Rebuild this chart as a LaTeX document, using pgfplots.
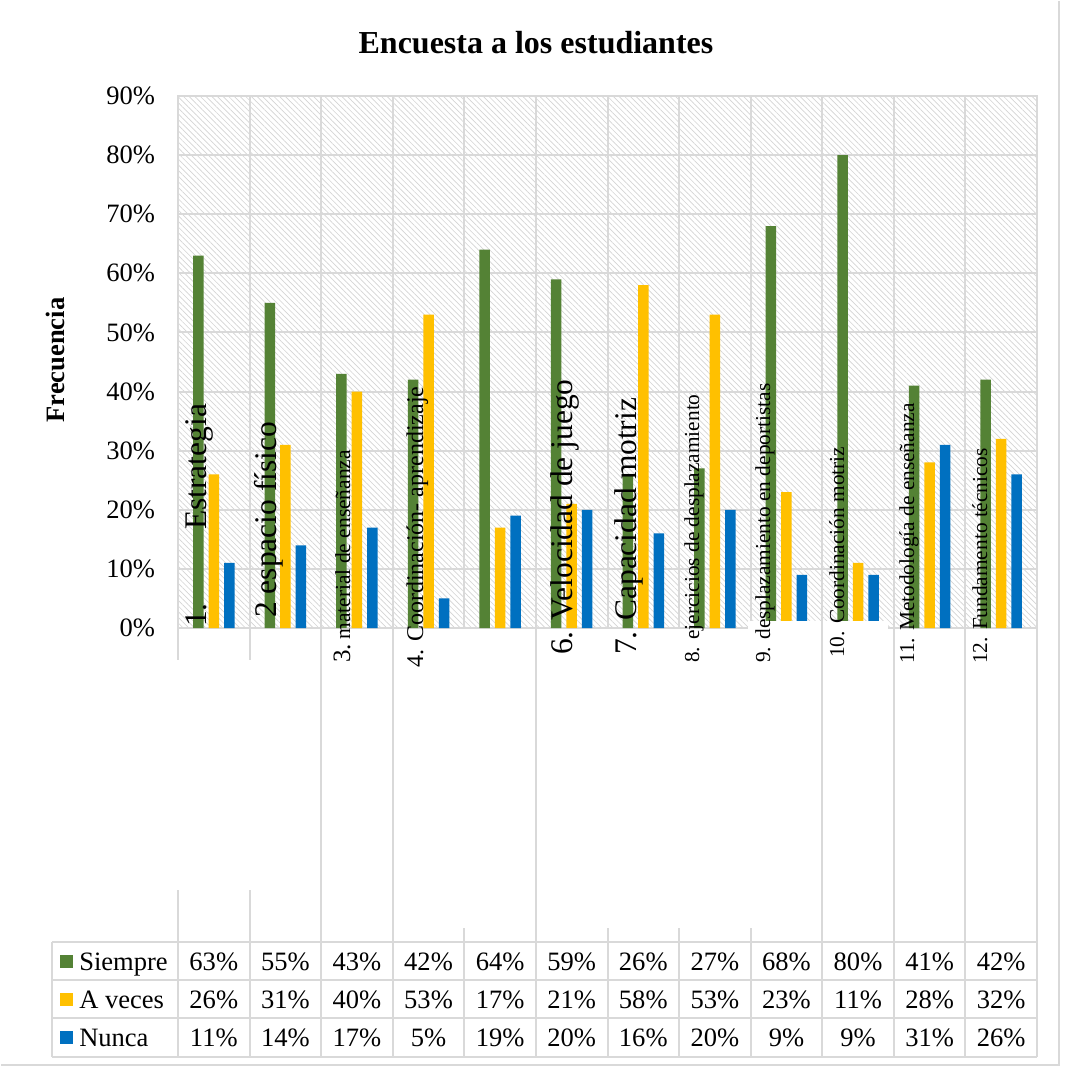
\documentclass[border=0pt]{standalone}
\usepackage{fontspec}
\setmainfont{Liberation Serif}
\usepackage{pgfplots}
\pgfplotsset{compat=1.18}
\usepackage{pgfplotstable}
\usetikzlibrary{patterns.meta}
\definecolor{cS}{HTML}{548235}
\definecolor{cA}{HTML}{FFC000}
\definecolor{cN}{HTML}{0070C0}
\definecolor{gridc}{HTML}{D9D9D9}
\definecolor{hatchc}{HTML}{D4D4D4}
\newcommand{\fs}[1]{\fontsize{#1}{#1}\selectfont}

\pgfplotstableread{
x s a n
0 63 26 11
1 55 31 14
2 43 40 17
3 42 53 5
4 64 17 19
5 59 21 20
6 26 58 16
7 27 53 20
8 68 23 9
9 80 11 9
10 41 28 31
11 42 32 26
}\data

\begin{document}
\begin{tikzpicture}
\path[use as bounding box] (0pt,0pt) rectangle (798.75pt,-800.25pt);
\begin{axis}[
  at={(133.5pt,-471pt)}, anchor=south west,
  scale only axis, width=644.25pt, height=399pt,
  xmin=-0.5, xmax=11.5, ymin=0, ymax=90,
  ybar=3.75pt, bar width=7.875pt,
  xtick={-0.5,0.5,...,11.5}, xticklabels={},
  ytick={0,10,...,90},
  xmajorgrids, ymajorgrids,
  major tick length=0pt,
  grid style={draw=gridc, line width=1.5pt},
  axis line style={draw=gridc, line width=1.5pt},
  axis background/.style={fill=white, postaction={pattern={Lines[angle=-45,distance=3pt,line width=0.5pt]}, pattern color=hatchc}},
  yticklabel={\pgfmathprintnumber[fixed,precision=0,assume math mode=true]{\tick}\%},
  yticklabel style={anchor=east, inner sep=0pt, xshift=-17pt, font=\fs{19.9pt}},
  clip=false,
]
\addplot[fill=cS, draw=none] table[x=x,y=s]{\data};
\addplot[fill=cA, draw=none] table[x=x,y=a]{\data};
\addplot[fill=cN, draw=none] table[x=x,y=n]{\data};
\end{axis}

\begin{scope}[x=0.75pt, y=-0.75pt]
% white patch at bottom of columns 9-10
\fill[white] (748,621) rectangle (888,632);
% lines in the category label area
\draw[gridc, line width=1.5pt]
  (178,627) -- (178,660) (178,890) -- (178,942)
  (249.6,627) -- (249.6,660) (249.6,890) -- (249.6,942)
  (321.2,627) -- (321.2,942)
  (392.8,627) -- (392.8,942)
  (464.3,928) -- (464.3,942)
  (535.9,627) -- (535.9,942)
  (607.5,928) -- (607.5,942)
  (679.1,928) -- (679.1,942)
  (750.7,928) -- (750.7,942)
  (822.2,615) -- (822.2,942)
  (893.8,627) -- (893.8,942)
  (965.4,627) -- (965.4,942)
  (1037,627) -- (1037,942);
% table grid
\draw[gridc, line width=1.5pt]
  (52,942) -- (1037,942) (52,980) -- (1037,980) (52,1018) -- (1037,1018) (52,1057) -- (1037,1057)
  (52,942) -- (52,1057);
\foreach \k in {0,...,12}{
  \pgfmathsetmacro\lx{178+71.583*\k}
  \draw[gridc, line width=1.5pt] (\lx,942) -- (\lx,1057);
}
% category labels
\tikzset{cl/.style={rotate=90, anchor=base west, inner sep=0pt}}
\node[cl] at (206,627) {\fs{23.6pt}1.};
\node[cl] at (206,530) {\fs{23.6pt}Estrategia};
\node[cl] at (276,618) {\fs{23.6pt}2 espacio físico};
\node[cl] at (350,663) {{\fs{18.75pt}3.} {\fs{16.1pt}material de enseñanza}};
\node[cl] at (423,668) {\fs{18pt}4. Coordinación- aprendizaje};
\node[cl] at (572,655) {\fs{23.6pt}6. Velocidad de juego};
\node[cl] at (636,655) {\fs{23.6pt}7. Capacidad motriz};
\node[cl] at (699,663) {\fs{16pt}8. ejercicios de desplazamiento};
\node[cl] at (770,663) {\fs{16pt}9. desplazamiento en deportistas};
\node[cl] at (844,658) {\fs{16pt}10. Coordinación motriz};
\node[cl] at (914,664) {\fs{16pt}11. Metodología de enseñanza};
\node[cl] at (987,664) {\fs{16pt}12. Fundamento técnicos};
% titles
\node[font=\bfseries\fs{24pt}] at (536,43) {Encuesta a los estudiantes};
\node[rotate=90, font=\bfseries\fs{19.9pt}] at (55,360) {Frecuencia};
% legend keys of the data table
\fill[cS] (60,955) rectangle (73,968);
\fill[cA] (60,993) rectangle (73,1006);
\fill[cN] (60,1031) rectangle (73,1044);
\node[anchor=base west, inner sep=0pt, font=\fs{19.9pt}] at (79,970) {Siempre};
\node[anchor=base west, inner sep=0pt, font=\fs{19.9pt}] at (79,1008) {A veces};
\node[anchor=base west, inner sep=0pt, font=\fs{19.9pt}] at (79,1046) {Nunca};
% data table values
\foreach \i in {0,...,11}{
  \pgfmathsetmacro\cx{178+71.583*(\i+0.5)}
  \pgfplotstablegetelem{\i}{s}\of\data \let\vs\pgfplotsretval
  \pgfplotstablegetelem{\i}{a}\of\data \let\va\pgfplotsretval
  \pgfplotstablegetelem{\i}{n}\of\data \let\vn\pgfplotsretval
  \node[anchor=base, inner sep=0pt, font=\fs{19.9pt}] at (\cx,970) {\vs\%};
  \node[anchor=base, inner sep=0pt, font=\fs{19.9pt}] at (\cx,1008) {\va\%};
  \node[anchor=base, inner sep=0pt, font=\fs{19.9pt}] at (\cx,1046) {\vn\%};
}
% chart border
\draw[gridc, line width=1pt] (1059,1) -- (1059,1065) -- (1,1065);
\end{scope}
\end{tikzpicture}
\end{document}
